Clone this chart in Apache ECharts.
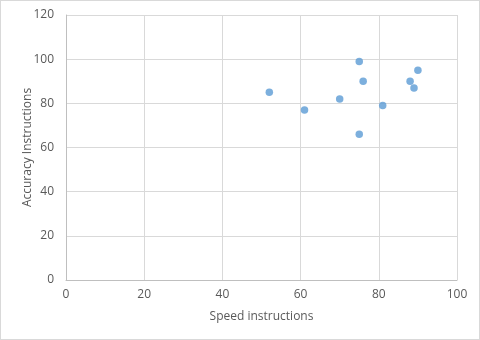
<!DOCTYPE html>
<html>
<head>
<meta charset="utf-8">
<script src="https://cdn.jsdelivr.net/npm/echarts@6/dist/echarts.min.js"></script>
<style>
  html, body { margin: 0; padding: 0; background: #fff; }
  #chart { width: 478px; height: 338px; border: 1px solid #d9d9d9; }
</style>
</head>
<body>
<div id="chart"></div>
<script>
// 数据
var speed = [52, 61, 70, 75, 76, 75, 81, 88, 89, 90];
var accuracy = [85, 77, 82, 99, 90, 66, 79, 90, 87, 95];

var points = speed.map(function (s, i) { return [s, accuracy[i]]; });

var chart = echarts.init(document.getElementById('chart'));

var labelStyle = { color: '#595959', fontSize: 12, fontFamily: 'Open Sans' };

chart.setOption({
  animation: false,
  grid: { left: 65, right: 22, top: 14, bottom: 59 },
  xAxis: {
    type: 'value',
    min: 0, max: 100, interval: 20,
    name: 'Speed instructions',
    nameLocation: 'middle',
    nameGap: 31,
    nameMoveOverlap: false,
    nameTextStyle: labelStyle,
    axisLine: { lineStyle: { color: '#bfbfbf' } },
    axisTick: { show: false },
    axisLabel: Object.assign({ margin: 9 }, labelStyle),
    splitLine: { lineStyle: { color: '#d9d9d9' } }
  },
  yAxis: {
    type: 'value',
    min: 0, max: 120, interval: 20,
    name: 'Accuracy Instructions',
    nameLocation: 'middle',
    nameGap: 32,
    nameMoveOverlap: false,
    nameTextStyle: labelStyle,
    axisLine: { show: true, lineStyle: { color: '#bfbfbf' } },
    axisTick: { show: false },
    axisLabel: Object.assign({ margin: 12 }, labelStyle),
    splitLine: { lineStyle: { color: '#d9d9d9' } }
  },
  series: [{
    type: 'scatter',
    data: points,
    symbolSize: 7.5,
    itemStyle: { color: '#5b9bd5' }
  }]
});
</script>
</body>
</html>
